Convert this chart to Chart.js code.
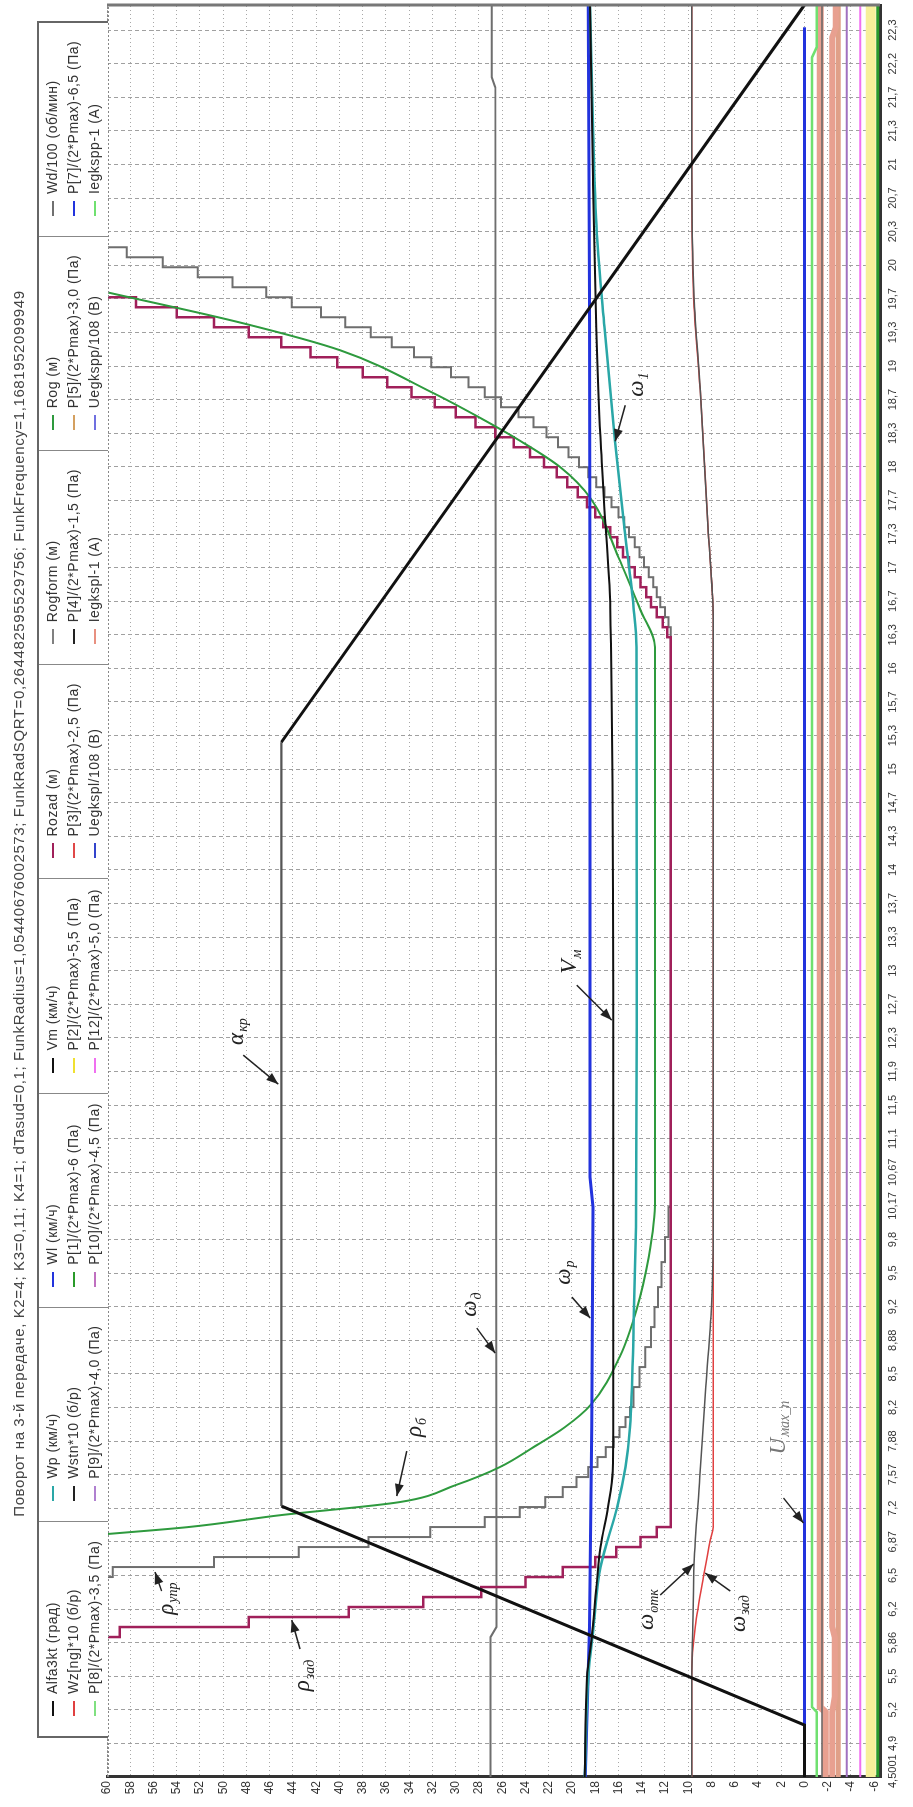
<!DOCTYPE html>
<html lang="ru">
<head>
<meta charset="UTF-8">
<title>Поворот на 3-й передаче</title>
<script src="https://cdn.jsdelivr.net/npm/chart.js"></script>
<style>
  html, body { margin: 0; padding: 0; background: #fff; }
  body { width: 913px; height: 1807px; overflow: hidden; position: relative; }
  /* the whole chart is laid out landscape, then turned a quarter turn left */
  #sheet { position: absolute; left: 0; top: 0; width: 1807px; height: 913px;
    transform-origin: 0 0; transform: translateY(1807px) rotate(-90deg);
    font-family: Arial, "Liberation Sans", sans-serif; color: #333; }
  #chart { position: absolute; left: 0; top: 0; }
  #title { position: absolute; left: 0; top: 10px; width: 1807px; text-align: center;
    font-size: 15px; letter-spacing: 0.6px; color: #444; }
  #legend { position: absolute; left: 69px; top: 37px; width: 1717px; height: 71px;
    border: 2px solid #666; border-bottom: none; box-sizing: border-box;
    display: grid; grid-template-columns: repeat(8, 1fr); background: #fff; }
  .col { border-left: 1px solid #888; padding: 3px 0 0 20px; }
  .col:first-child { border-left: none; }
  .item { height: 21px; line-height: 21px; white-space: nowrap; font-size: 14px; letter-spacing: 0.5px; }
  .sw { display: inline-block; width: 15px; height: 2px; vertical-align: middle; margin-right: 7px; }
</style>
</head>
<body>
<div id="sheet">
  <canvas id="chart" width="1807" height="913"></canvas>
  <div id="title">Поворот на 3-й передаче, K2=4; K3=0,11; K4=1; dTasud=0,1; FunkRadius=1,05440676002573; FunkRadSQRT=0,264482595529756; FunkFrequency=1,1681952099949</div>
  <div id="legend"></div>
</div>

<script>
// time axis: labels sit at evenly spaced sample marks
const timeLabels = ['4,5001', '4,9', '5,2', '5,5', '5,86', '6,2', '6,5', '6,87', '7,2', '7,57', '7,88', '8,2',
  '8,5', '8,88', '9,2', '9,5', '9,8', '10,17', '10,67', '11,1', '11,5', '11,9', '12,3', '12,7', '13', '13,3',
  '13,7', '14', '14,3', '14,7', '15', '15,3', '15,7', '16', '16,3', '16,7', '17', '17,3', '17,7', '18', '18,3',
  '18,7', '19', '19,3', '19,7', '20', '20,3', '20,7', '21', '21,3', '21,7', '22,2', '22,3'];
const tMin = 4.5001;
const tMax = 22.223;
const tickStep = 0.336;
const valueTicks = [60, 58, 56, 54, 52, 50, 48, 46, 44, 42, 40, 38, 36, 34, 32, 30, 28, 26, 24, 22, 20,
  18, 16, 14, 12, 10, 8, 6, 4, 2, 0, -2, -4, -6];

// series
const alfaT = [4.5001, 5.02, 7.21, 14.85, 22.223];
const alfaV = [0, 0, 45, 45, 0];

const vmT = [4.5001, 5.5, 5.9, 6.4, 6.8, 7.2, 7.56, 8.5, 12, 16.2, 17.0, 17.9, 19.0, 20.5, 22.223];
const vmV = [18.9, 18.7, 18.3, 17.9, 17.55, 16.9, 16.5, 16.45, 16.45, 16.7, 17.1, 17.55, 17.9, 18.2, 18.45];

const wlT = [4.5001, 6, 8, 10.2, 10.5, 16, 19.3, 22.223];
const wlV = [18.85, 18.5, 18.3, 18.2, 18.45, 18.45, 18.5, 18.6];

const wpT = [4.5001, 5.5, 6.0, 6.6, 7.2, 7.6, 8.0, 9.0, 10.0, 12, 15.8, 16.2, 17.0, 17.86, 19.0, 19.94, 21.0, 22.223];
const wpV = [18.9, 18.6, 18.15, 17.55, 16.1, 15.4, 15.0, 14.7, 14.5, 14.42, 14.45, 14.7, 15.5, 16.3, 17.2, 17.86, 18.2, 18.45];

const rogT = [6.93, 7.0, 7.12, 7.25, 7.42, 7.6, 7.8, 8.0, 8.22, 8.7, 9.19, 9.7, 10.27, 15.8, 16.17, 16.7,
  17.29, 17.6, 17.86, 18.1, 18.34, 18.77, 19.04, 19.35];
const rogV = [60, 53, 45, 34.8, 30, 26.2, 23.3, 20.6, 18.4, 15.9, 14.4, 13.4, 12.85, 12.85, 14.1, 16.0,
  18.4, 21.0, 24.4, 28, 31.9, 39.95, 48.3, 60];

const rozadT = [4.5001, 5.9, 6.0, 6.1, 6.2, 6.3, 6.4, 6.5, 6.6, 6.7, 6.8, 6.9, 7.0,
  15.8, 15.9, 16.0, 16.1, 16.2, 16.3, 16.4, 16.5, 16.6, 16.7, 16.8, 16.9, 17.0, 17.1, 17.2, 17.3, 17.4,
  17.5, 17.6, 17.7, 17.8, 17.9, 18.0, 18.1, 18.2, 18.3, 18.4, 18.5, 18.6, 18.7, 18.8, 18.9, 19.0, 19.1,
  19.2, 19.3, 22.223];
const rozadV = [64, 58.9, 47.8, 39.2, 32.8, 27.8, 24.0, 20.8, 18.0, 16.2, 14.1, 12.7, 11.5,
  11.5, 11.8, 12.2, 12.7, 13.2, 13.6, 14.1, 14.6, 15.1, 15.6, 16.1, 16.7, 17.3, 18.0, 18.7, 19.5, 20.4,
  21.3, 22.4, 23.6, 25.0, 26.6, 28.3, 30.0, 31.8, 33.8, 35.9, 38.0, 40.2, 42.5, 45.0, 47.8, 50.8, 54.0,
  57.5, 64, 64];

const rogformT = [4.5001, 6.5, 6.6, 6.7, 6.8, 6.9, 7.0, 7.1, 7.2, 7.3, 7.4, 7.5, 7.6, 7.7, 7.8, 7.9, 8.0,
  8.1, 8.2, 8.4, 8.6, 8.8, 9.0, 9.2, 9.4, 9.65, 9.9, 10.2,
  15.9, 16.0, 16.1, 16.2, 16.3, 16.4, 16.5, 16.6, 16.7, 16.8, 16.9, 17.0, 17.1, 17.2, 17.3, 17.4, 17.5,
  17.6, 17.7, 17.8, 17.9, 18.0, 18.1, 18.2, 18.3, 18.4, 18.5, 18.6, 18.7, 18.8, 18.9, 19.0, 19.1, 19.2,
  19.3, 19.4, 19.5, 19.6, 19.7, 19.8, 22.223];
const rogformV = [64, 59.5, 50.8, 43.5, 37.5, 32.2, 27.5, 24.5, 22.3, 20.8, 19.6, 18.6, 17.8, 17.1, 16.4,
  15.9, 15.4, 15.0, 14.7, 14.2, 13.7, 13.2, 12.9, 12.6, 12.3, 12.0, 11.7, 11.5,
  11.5, 11.7, 12.0, 12.4, 12.7, 13.0, 13.4, 13.8, 14.2, 14.6, 15.1, 15.5, 16.0, 16.6, 17.2, 17.9, 18.6,
  19.4, 20.3, 21.2, 22.2, 23.3, 24.6, 26.1, 27.5, 28.9, 30.4, 32.1, 33.6, 35.5, 37.3, 39.5, 41.6, 44.1,
  46.3, 49.2, 52.2, 55.2, 58.3, 64, 64];

const wdT = [4.5001, 5.9, 6.0, 21.4, 21.5, 22.223];
const wdV = [27.0, 27.0, 26.5, 26.6, 26.9, 26.9];

const wstnT = [4.5001, 5.5, 6.0, 6.63, 7.5, 8.4, 9.2, 10.0, 16.1, 17.0, 18.38, 19.31, 20.6, 22.223];
const wstnV = [9.7, 9.7, 9.6, 9.5, 9.0, 8.5, 8.0, 7.85, 7.85, 8.3, 8.97, 9.5, 9.7, 9.7];

const wzT = [4.5001, 5.55, 6.0, 6.56, 6.87, 7.0, 16.1, 17.0, 18.38, 19.31, 20.6, 22.223];
const wzV = [9.7, 9.7, 9.4, 8.6, 8.1, 7.85, 7.85, 8.3, 8.97, 9.54, 9.7, 9.7];

const uT = [4.5001, 22.0];
const uV = [0, 0];

const iGreenT = [4.5001, 5.15, 5.2, 21.7, 21.8, 22.223];
const iGreenV = [-1.05, -1.05, -0.65, -0.65, -1.05, -1.05];

const iRedT = [4.5001, 5.15, 5.2, 22.223];
const iRedV = [-1.8, -1.8, -1.35, -1.35];

const p4T = [4.5001, 22.223];
const p4V = [-1.5, -1.5];
const p3T = [4.5001, 5.15, 5.3, 5.9, 6.0, 21.9, 22.0, 22.223];
const p3V = [-2.4, -2.4, -2.6, -2.6, -2.4, -2.4, -2.7, -2.7];
const p5T = [4.5001, 22.223];
const p5V = [-2.9, -2.9];
const p9T = [4.5001, 22.223];
const p9V = [-3.65, -3.65];
const p12T = [4.5001, 22.223];
const p12V = [-4.8, -4.8];
const p2T = [4.5001, 22.223];
const p2V = [-5.7, -5.7];
const p1T = [4.5001, 22.223];
const p1V = [-6.3, -6.3];

// hand-written labels with arrows
const annMain = ['α', 'V', 'ω', 'ω', 'ω', 'ρ', 'ρ', 'ρ', 'ω', 'ω', 'U'];
const annSub = ['кр', 'м', '1', 'р', 'д', 'б', 'упр', 'зад', 'отк', 'зад', 'мах_п'];
const annTextT = [11.95, 12.65, 18.42, 9.54, 9.22, 7.99, 6.28, 5.51, 6.17, 6.13, 7.99];
const annTextV = [48.84, 20.15, 14.41, 20.73, 28.76, 33.49, 54.86, 43.1, 13.56, 5.67, 2.23];
const annTailT = [11.72, 12.42, 18.22, 9.30, 8.99, 7.76, 6.36, 5.78, 6.32, 6.36, 7.29];
const annTailV = [48.27, 19.58, 15.42, 20.01, 28.19, 34.21, 55.3, 43.39, 12.41, 6.38, 1.8];
const annTipT = [11.43, 12.07, 17.86, 9.09, 8.74, 7.31, 6.55, 6.07, 6.63, 6.54, 7.04];
const annTipV = [45.26, 16.57, 16.28, 18.43, 26.61, 35.07, 55.87, 44.1, 9.54, 8.54, 0.08];

// legend, column by column
const legendNames = [
  ['Alfa3kt (град)', 'Wz[ng]*10 (б/р)', 'P[8]/(2*Pmax)-3,5 (Па)'],
  ['Wp (км/ч)', 'Wstn*10 (б/р)', 'P[9]/(2*Pmax)-4,0 (Па)'],
  ['Wl (км/ч)', 'P[1]/(2*Pmax)-6 (Па)', 'P[10]/(2*Pmax)-4,5 (Па)'],
  ['Vm (км/ч)', 'P[2]/(2*Pmax)-5,5 (Па)', 'P[12]/(2*Pmax)-5,0 (Па)'],
  ['Rozad (м)', 'P[3]/(2*Pmax)-2,5 (Па)', 'Uegkspl/108 (В)'],
  ['Rogform (м)', 'P[4]/(2*Pmax)-1,5 (Па)', 'Iegkspl-1 (А)'],
  ['Rog (м)', 'P[5]/(2*Pmax)-3,0 (Па)', 'Uegkspp/108 (В)'],
  ['Wd/100 (об/мин)', 'P[7]/(2*Pmax)-6,5 (Па)', 'Iegkspp-1 (А)']
];
const legendColors = [
  ['#111111', '#e04040', '#80e080'],
  ['#2aa7a7', '#222222', '#b080d0'],
  ['#2233dd', '#2a9a2a', '#c070c0'],
  ['#111111', '#f0e030', '#f070f0'],
  ['#a0205a', '#e04848', '#3344cc'],
  ['#808080', '#222222', '#e89080'],
  ['#2e9a3e', '#d4a060', '#7070e0'],
  ['#707070', '#2233dd', '#70e070']
];

const legendEl = document.getElementById('legend');
legendNames.forEach((col, c) => {
  const colEl = document.createElement('div');
  colEl.className = 'col';
  col.forEach((name, r) => {
    const it = document.createElement('div');
    it.className = 'item';
    it.innerHTML = '<span class="sw" style="background:' + legendColors[c][r] + '"></span>' + name;
    colEl.appendChild(it);
  });
  legendEl.appendChild(colEl);
});

// where each time label sits on the axis
const tickPos = timeLabels.map((lab, i) => tMin + i * tickStep);

function pts(ts, vs) {
  return ts.map((t, i) => ({ x: t, y: vs[i] }));
}

function line(label, ts, vs, color, width, extra) {
  return Object.assign({
    label: label, data: pts(ts, vs), borderColor: color, backgroundColor: color,
    borderWidth: width, pointRadius: 0, fill: false, tension: 0
  }, extra || {});
}

// dataset 0 is drawn on top
const datasets = [
  line('Alfa3kt (град)', alfaT, alfaV, '#111111', 3, {
    segment: {
      borderColor: (c) => (c.p0DataIndex === 2 ? '#555555' : '#111111'),
      borderWidth: (c) => (c.p0DataIndex === 2 ? 2.2 : 3)
    }
  }),
  line('Vm (км/ч)', vmT, vmV, '#111111', 2, { cubicInterpolationMode: 'monotone' }),
  line('Wp (км/ч)', wpT, wpV, '#2aa7a7', 2.5, { cubicInterpolationMode: 'monotone' }),
  line('Wl (км/ч)', wlT, wlV, '#2233dd', 3),
  line('Rog (м)', rogT, rogV, '#2e9a3e', 2, { cubicInterpolationMode: 'monotone' }),
  line('Rozad (м)', rozadT, rozadV, '#a0205a', 2.5, { stepped: true }),
  line('Rogform (м)', rogformT, rogformV, '#6e6e6e', 2, { stepped: true }),
  line('Wd/100 (об/мин)', wdT, wdV, '#6e6e6e', 2),
  line('Wstn*10 (б/р)', wstnT, wstnV, '#555555', 1.5, { cubicInterpolationMode: 'monotone' }),
  line('Wz[ng]*10 (б/р)', wzT, wzV, '#e04040', 1.5, { cubicInterpolationMode: 'monotone' }),
  line('Uegkspl/108 (В)', uT, uV, '#2233dd', 3),
  line('Iegkspp-1 (А)', iGreenT, iGreenV, '#70e070', 2.5),
  line('P[4]/(2*Pmax)-1,5 (Па)', p4T, p4V, '#666666', 1.5),
  line('Iegkspl-1 (А)', iRedT, iRedV, '#e8a090', 7),
  line('P[3]/(2*Pmax)-2,5 (Па)', p3T, p3V, '#e8a090', 6),
  line('P[5]/(2*Pmax)-3,0 (Па)', p5T, p5V, '#e0a088', 5),
  line('P[9]/(2*Pmax)-4,0 (Па)', p9T, p9V, '#a070c0', 2),
  line('P[12]/(2*Pmax)-5,0 (Па)', p12T, p12V, '#f070f0', 2),
  line('P[2]/(2*Pmax)-5,5 (Па)', p2T, p2V, '#f6f09a', 10),
  line('P[1]/(2*Pmax)-6 (Па)', p1T, p1V, '#2a9a2a', 3)
];

const frame = {
  id: 'frame',
  afterDatasetsDraw(chart) {
    const { ctx, chartArea: a } = chart;
    ctx.save();
    ctx.strokeStyle = '#777';
    ctx.lineWidth = 3;
    ctx.beginPath();
    ctx.moveTo(a.right, a.top);
    ctx.lineTo(a.right, a.bottom);
    ctx.stroke();
    ctx.lineWidth = 2;
    ctx.setLineDash([2, 2]);
    ctx.strokeStyle = '#888';
    ctx.beginPath();
    ctx.moveTo(a.left, a.top + 1);
    ctx.lineTo(a.right, a.top + 1);
    ctx.stroke();
    ctx.restore();
  }
};

// time labels: the first one starts just left of the axis corner, the rest are centred
const timeText = {
  id: 'timeText',
  afterDraw(chart) {
    const { ctx, chartArea: a } = chart;
    const xs = chart.scales.x;
    ctx.save();
    ctx.font = '11px Arial';
    ctx.fillStyle = '#333';
    ctx.textBaseline = 'top';
    timeLabels.forEach((lab, i) => {
      const x = xs.getPixelForValue(tickPos[i]);
      if (i === 0) { ctx.textAlign = 'left'; ctx.fillText(lab, x - 11, a.bottom + 7); }
      else { ctx.textAlign = 'center'; ctx.fillText(lab, x, a.bottom + 7); }
    });
    ctx.restore();
  }
};

const notes = {
  id: 'notes',
  afterDatasetsDraw(chart) {
    const { ctx } = chart;
    const xs = chart.scales.x, ys = chart.scales.y;
    ctx.save();
    annMain.forEach((m, i) => {
      const tx = xs.getPixelForValue(annTextT[i]), ty = ys.getPixelForValue(annTextV[i]);
      const ax = xs.getPixelForValue(annTailT[i]), ay = ys.getPixelForValue(annTailV[i]);
      const bx = xs.getPixelForValue(annTipT[i]), by = ys.getPixelForValue(annTipV[i]);
      const grey = i === annMain.length - 1;
      ctx.strokeStyle = '#222';
      // arrow
      ctx.lineWidth = 1.5;
      ctx.beginPath();
      ctx.moveTo(ax, ay);
      ctx.lineTo(bx, by);
      ctx.stroke();
      const ang = Math.atan2(by - ay, bx - ax);
      ctx.beginPath();
      ctx.moveTo(bx, by);
      ctx.lineTo(bx - 12 * Math.cos(ang) + 4.5 * Math.sin(ang), by - 12 * Math.sin(ang) - 4.5 * Math.cos(ang));
      ctx.lineTo(bx - 12 * Math.cos(ang) - 4.5 * Math.sin(ang), by - 12 * Math.sin(ang) + 4.5 * Math.cos(ang));
      ctx.closePath();
      ctx.fillStyle = '#222';
      ctx.fill();
      // text
      ctx.fillStyle = grey ? '#777' : '#222';
      ctx.textBaseline = 'middle';
      ctx.textAlign = 'left';
      ctx.font = 'italic 23px "Liberation Serif", serif';
      const wm = ctx.measureText(m).width;
      ctx.font = 'italic 14px "Liberation Serif", serif';
      const ws = ctx.measureText(annSub[i]).width;
      const x0 = tx - (wm + ws) / 2;
      ctx.font = 'italic 23px "Liberation Serif", serif';
      ctx.fillText(m, x0, ty);
      ctx.font = 'italic 14px "Liberation Serif", serif';
      ctx.fillText(annSub[i], x0 + wm + 1, ty + 7);
    });
    ctx.restore();
  }
};

new Chart(document.getElementById('chart'), {
  type: 'line',
  data: { datasets: datasets },
  options: {
    responsive: false,
    devicePixelRatio: 1,
    animation: false,
    layout: { autoPadding: false, padding: { top: 107, right: 5, left: 0, bottom: 0 } },
    plugins: { legend: { display: false }, title: { display: false }, tooltip: { enabled: false } },
    scales: {
      x: {
        type: 'linear',
        min: tMin,
        max: tMax,
        afterBuildTicks: (s) => { s.ticks = tickPos.map((v) => ({ value: v })); },
        afterFit: (s) => { s.height = 33; },
        ticks: { display: false },
        grid: { color: '#a0a0a0', lineWidth: 1, drawTicks: false },
        border: { display: true, color: '#333', width: 3, dash: [4, 3] }
      },
      y: {
        type: 'linear',
        min: -6.5,
        max: 60,
        afterBuildTicks: (s) => { s.ticks = valueTicks.map((v) => ({ value: v })); },
        afterFit: (s) => { s.width = 30; },
        ticks: { color: '#333', padding: 4, font: { size: 12, family: 'Arial' } },
        grid: { color: '#a8a8a8', lineWidth: 1, drawTicks: false },
        border: { display: true, color: '#333', width: 3, dash: [1, 3] }
      }
    }
  },
  plugins: [frame, timeText, notes]
});
</script>
</body>
</html>
